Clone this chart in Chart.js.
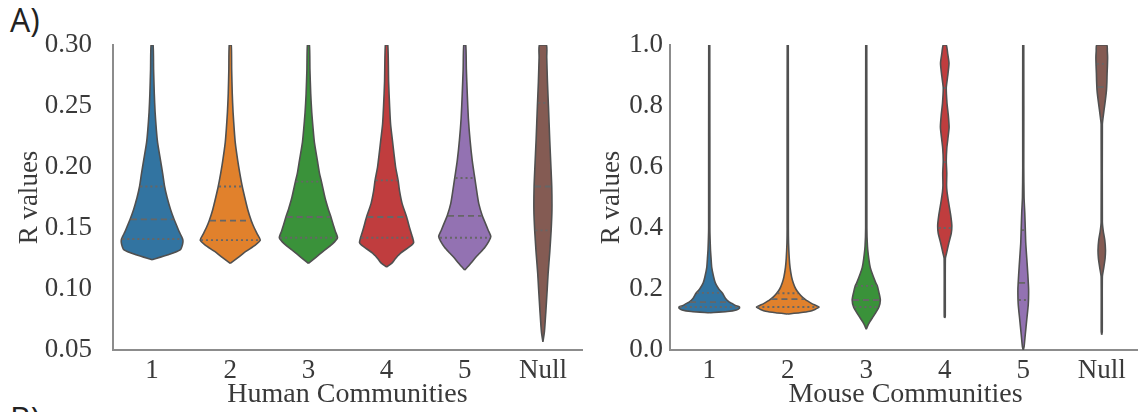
<!DOCTYPE html>
<html>
<head>
<meta charset="utf-8">
<script src="https://cdn.jsdelivr.net/npm/chart.js@4.4.1/dist/chart.umd.min.js"></script>
<style>
    html, body { margin: 0; padding: 0; background: #fff; overflow: hidden; width: 1138px; height: 412px; }
    .panel-label { position: absolute; font-family: 'Open Sans', sans-serif; font-size: 32px; line-height: 1; color: #222; }
    canvas { position: absolute; top: 0; }
</style>
</head>
<body>
<div class="panel-label" style="left:10px; top:4px;">A)</div>
<div class="panel-label" style="left:10px; top:403px;">B)</div>
<canvas id="humanChart" width="590" height="412" style="left:0"></canvas>
<canvas id="mouseChart" width="560" height="412" style="left:590px"></canvas>
<script>
// Categories and colours
const categories = ['1', '2', '3', '4', '5', 'Null'];
const violinColors = ['#3274a1', '#e1812c', '#3a923a', '#c03d3e', '#9372b2', '#845b53'];

// Violin outlines: [R value, half width (density)]
const human1 = [[0.124, 0], [0.128, 16], [0.132, 28], [0.137, 30.5], [0.141, 30.5], [0.147, 27], [0.152, 24.5], [0.157, 22], [0.165, 18.5], [0.175, 15], [0.184, 12.5], [0.195, 10.5], [0.205, 8.5], [0.22, 5.5], [0.23, 4.3], [0.245, 3], [0.26, 2.2], [0.28, 1.5], [0.30, 1]];
const human2 = [[0.121, 0], [0.126, 8], [0.131, 16], [0.136, 25], [0.140, 30], [0.145, 27], [0.150, 24], [0.156, 21], [0.165, 17.5], [0.175, 14.5], [0.184, 12], [0.195, 9.5], [0.205, 7.5], [0.22, 5], [0.23, 4], [0.245, 2.8], [0.26, 2], [0.28, 1.4], [0.30, 1]];
const human3 = [[0.121, 0], [0.126, 7.5], [0.131, 15], [0.137, 24], [0.142, 29], [0.147, 27], [0.152, 25], [0.159, 22.5], [0.165, 20], [0.175, 16.5], [0.188, 13], [0.195, 11], [0.205, 9], [0.22, 6], [0.23, 4.8], [0.245, 3.3], [0.26, 2.3], [0.28, 1.5], [0.30, 1]];
const human4 = [[0.118, 0], [0.121, 5], [0.124, 8], [0.127, 11], [0.1295, 14], [0.133, 20], [0.136, 25], [0.138, 27], [0.142, 26], [0.150, 23], [0.159, 20], [0.170, 15.5], [0.180, 13], [0.189, 11.5], [0.20, 9], [0.21, 7.5], [0.222, 5.8], [0.235, 4], [0.25, 3], [0.27, 2], [0.30, 1.2]];
const human5 = [[0.1156, 0], [0.119, 4], [0.122, 7], [0.126, 11], [0.1295, 15], [0.134, 20], [0.139, 24], [0.143, 26], [0.148, 23.5], [0.155, 20], [0.160, 17.5], [0.170, 14], [0.180, 12], [0.191, 10], [0.205, 7.5], [0.222, 5.3], [0.24, 3.6], [0.26, 2.5], [0.28, 1.6], [0.30, 1]];
const humanNull = [[0.0566, 0], [0.065, 1.5], [0.08, 2.8], [0.10, 4.3], [0.113, 5.2], [0.13, 6.8], [0.148, 8.2], [0.165, 9], [0.184, 8.8], [0.20, 8], [0.222, 6.8], [0.25, 5.5], [0.27, 4.5], [0.29, 3.8], [0.30, 3.5]];

const mouse1 = [[0.122, 0], [0.126, 18], [0.131, 27], [0.137, 30], [0.141, 30], [0.146, 26], [0.152, 23], [0.157, 20], [0.17, 16], [0.187, 13], [0.20, 9.5], [0.22, 6], [0.24, 4.3], [0.27, 2.5], [0.30, 1.8], [0.33, 1.2], [0.40, 0.6], [1.0, 0.5]];
const mouse2 = [[0.118, 0], [0.122, 12], [0.127, 22], [0.133, 27], [0.138, 30], [0.141, 31], [0.146, 28], [0.152, 24], [0.160, 20], [0.167, 17], [0.175, 14], [0.186, 11], [0.20, 8], [0.22, 5.5], [0.24, 3.8], [0.27, 2.3], [0.30, 1.5], [0.35, 0.8], [0.40, 0.6], [1.0, 0.5]];
const mouse3 = [[0.068, 0], [0.08, 1.5], [0.092, 3.5], [0.105, 6], [0.12, 9], [0.14, 12.5], [0.164, 14], [0.19, 12.5], [0.21, 11], [0.22, 9.5], [0.25, 6], [0.27, 4], [0.30, 2.5], [0.34, 1.2], [0.40, 0.6], [1.0, 0.5]];
const mouse4 = [[0.105, 0], [0.11, 0.5], [0.30, 0.6], [0.318, 1.8], [0.35, 4], [0.383, 6.5], [0.41, 7], [0.44, 6], [0.46, 5], [0.49, 3.5], [0.52, 2.2], [0.54, 1.8], [0.58, 2], [0.62, 1.5], [0.66, 2], [0.69, 3], [0.73, 4.3], [0.77, 3.5], [0.81, 2.2], [0.86, 1.5], [0.90, 3], [0.94, 4.2], [0.97, 3], [1.0, 1.5]];
const mouse5 = [[0.0, 0], [0.01, 0.8], [0.05, 2], [0.10, 3.5], [0.15, 5], [0.20, 5.3], [0.25, 4.5], [0.30, 3.5], [0.35, 2.5], [0.40, 2], [0.45, 1.5], [0.50, 0.8], [0.60, 0.5], [1.0, 0.5]];
const mouseNull = [[0.05, 0], [0.06, 0.5], [0.24, 0.6], [0.27, 2], [0.30, 3.3], [0.328, 3.7], [0.36, 3], [0.39, 1.5], [0.42, 0.6], [0.74, 0.6], [0.754, 1], [0.78, 2], [0.797, 2.7], [0.825, 3.8], [0.853, 4.7], [0.88, 5.1], [0.907, 5.3], [0.93, 5.6], [0.96, 5.8], [0.98, 5.5], [1.0, 5]];

// Quartiles per community
const humanQ1 = [0.141, 0.140, 0.142, 0.142, 0.142, 0.148];
const humanMedian = [0.157, 0.156, 0.159, 0.159, 0.160, 0.184];
const humanQ3 = [0.184, 0.184, 0.188, 0.189, 0.191, 0.2525];
const mouseQ1 = [0.141, 0.141, 0.141, 0.40, 0.164, 0.76];
const mouseMedian = [0.157, 0.167, 0.164, 0.616, 0.22, 0.862];
const mouseQ3 = [0.187, 0.186, 0.21, 0.859, 0.393, 0.938];

// Y ticks
const humanYTicks = [0.05, 0.10, 0.15, 0.20, 0.25, 0.30];
const mouseYTicks = [0.0, 0.2, 0.4, 0.6, 0.8, 1.0];

// Style
const densityScale = 1 / 78;
const outlineColor = '#505050';
const innerColor = '#666';
const textColor = '#3a3a3a';
const serif = "'Liberation Serif', 'Times New Roman', serif";
const tickFont = { family: serif, size: 27, lineHeight: 1.2 };
const titleFont = { family: serif, size: 28, lineHeight: 1.2 };

function widthAt(profile, v) {
    for (let i = 1; i < profile.length; i++) {
        const [v0, w0] = profile[i - 1];
        const [v1, w1] = profile[i];
        if (v >= v0 && v <= v1) return w0 + (w1 - w0) * (v - v0) / (v1 - v0);
    }
    return 0;
}

function buildViolinChart(canvasId, profiles, q1, med, q3, yTicks, decimals, xTitle, layout) {
    const datasets = [];

    profiles.forEach((p, i) => {
        const right = p.map(([v, w]) => ({ x: i + w * densityScale, y: v }));
        const left = p.slice().reverse().map(([v, w]) => ({ x: i - w * densityScale, y: v }));
        datasets.push({
            data: right.concat(left),
            showLine: true,
            fill: 'shape',
            backgroundColor: violinColors[i],
            borderColor: outlineColor,
            borderWidth: 1.6,
            pointRadius: 0,
            tension: 0.2,   // also avoids the fast path that merges same-pixel points
            order: 2
        });

        [[q1[i], [2, 3]], [med[i], [6, 4]], [q3[i], [2, 3]]].forEach(([q, dash]) => {
            const w = Math.max(widthAt(p, q) - 0.8, 0) * densityScale;
            datasets.push({
                data: [{ x: i - w, y: q }, { x: i + w, y: q }],
                showLine: true,
                fill: false,
                borderColor: innerColor,
                borderWidth: 1.8,
                borderDash: dash,
                pointRadius: 0,
                order: 1
            });
        });
    });

    return new Chart(document.getElementById(canvasId), {
        type: 'scatter',
        data: { datasets },
        options: {
            responsive: false,
            animation: false,
            layout: { padding: layout.padding },
            plugins: { legend: { display: false }, tooltip: { enabled: false } },
            events: [],
            scales: {
                x: {
                    type: 'linear',
                    min: -0.5,
                    max: categories.length - 0.5,
                    afterBuildTicks: s => { s.ticks = categories.map((c, i) => ({ value: i })); },
                    afterFit: s => { s.height = 62; },
                    ticks: {
                        autoSkip: false,
                        maxRotation: 0,
                        callback: v => categories[v],
                        font: tickFont,
                        color: textColor,
                        padding: 5
                    },
                    grid: { display: false, drawTicks: false },
                    border: { display: true, color: '#8c8c8c', width: 2 },
                    title: { display: true, text: xTitle, font: titleFont, color: textColor, padding: { top: 0, bottom: 1 } }
                },
                y: {
                    type: 'linear',
                    min: yTicks[0],
                    max: yTicks[yTicks.length - 1],
                    afterBuildTicks: s => { s.ticks = yTicks.map(v => ({ value: v })); },
                    afterFit: s => { s.width = layout.yWidth; },
                    ticks: {
                        callback: v => v.toFixed(decimals),
                        font: tickFont,
                        color: textColor,
                        padding: layout.tickPad
                    },
                    grid: { display: false, drawTicks: false },
                    border: { display: true, color: '#8c8c8c', width: 2 },
                    title: { display: true, text: 'R values', font: tickFont, color: textColor, padding: { top: layout.titlePad, bottom: 0 } }
                }
            }
        }
    });
}

buildViolinChart('humanChart', [human1, human2, human3, human4, human5, humanNull],
    humanQ1, humanMedian, humanQ3, humanYTicks, 2, 'Human Communities',
    { padding: { top: 45, right: 8, bottom: 0, left: 0 }, yWidth: 113, tickPad: 21, titlePad: 14 });

buildViolinChart('mouseChart', [mouse1, mouse2, mouse3, mouse4, mouse5, mouseNull],
    mouseQ1, mouseMedian, mouseQ3, mouseYTicks, 1, 'Mouse Communities',
    { padding: { top: 45, right: 9, bottom: 0, left: 0 }, yWidth: 80, tickPad: 7, titlePad: 6 });
</script>
</body>
</html>
